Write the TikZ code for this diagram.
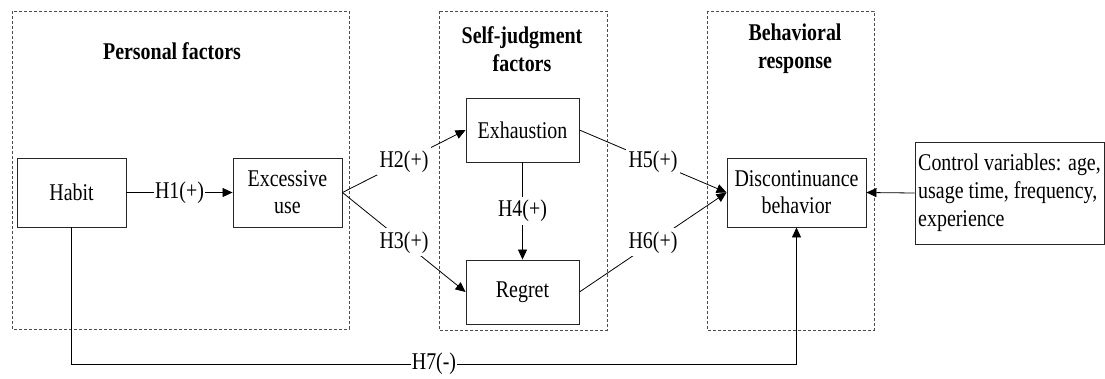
\documentclass[tikz,border=0pt]{standalone}
\usepackage{fontspec}
\setmainfont{Liberation Serif}[FakeStretch=0.83]
\usetikzlibrary{arrows.meta}
\begin{document}
\begin{tikzpicture}[x=1pt,y=-1pt,
  every node/.style={font=\fontsize{24}{27}\selectfont},
  box/.style={draw=black!85,line width=0.9pt,inner sep=2pt,align=center},
  group/.style={draw=black!70,line width=0.8pt,dash pattern=on 3pt off 2pt},
  title/.style={font=\fontsize{24}{28}\selectfont\bfseries,align=center},
  lab/.style={fill=white,inner sep=1.5pt},
  link/.style={draw=black,line width=0.8pt},
  arr/.style={link,-{Triangle[length=10pt,width=9pt]}}]
\useasboundingbox (0,0) rectangle (1105,378);

% dashed groups
\draw[group] (12,11) rectangle (349,329);
\draw[group] (439,11) rectangle (607,330);
\draw[group] (707,11) rectangle (874,330);

% group titles
\node[title] (tpers) at (172,51) {Personal factors};
\node[title] (tself) at (522,49) {Self-judgment\\factors};
\node[title] (tbeh) at (795,49) {Behavioral\\response};

% constructs
\node[box,minimum width=109pt,minimum height=69pt] (habit) at (71.5,192.5) {Habit};
\node[box,minimum width=109pt,minimum height=69pt] (exc) at (287.5,192.5) {Excessive\\use};
\node[box,minimum width=113pt,minimum height=64pt] (exh) at (522.5,130) {Exhaustion};
\node[box,minimum width=113pt,minimum height=64pt] (reg) at (522.5,292) {Regret};
\node[box,minimum width=139pt,minimum height=69pt] (disc) at (796.5,192.5) {Discontinuance\\behavior};
\node[box,minimum width=189pt,minimum height=102pt,align=left,inner xsep=3pt,
  font=\fontsize{24}{28}\selectfont] (ctrl) at (1009.5,193)
  {Control variables: age,\\usage time, frequency,\\experience};

% hypothesised paths
\draw[arr] (habit.east) -- node[lab]{H1(+)} (exc.west);
\draw[arr] (exc.east) -- node[lab,inner sep=3pt]{H2(+)} (exh.west);
\draw[arr] (exc.east) -- node[lab,inner sep=3pt]{H3(+)} (reg.west);
\draw[arr] (exh.south) -- node[lab,inner sep=3pt]{H4(+)} (reg.north);
\draw[arr] (exh.east) -- node[lab,inner sep=3pt]{H5(+)} (disc.west);
\draw[arr] (reg.east) -- node[lab,inner sep=3pt]{H6(+)} (disc.west);
\draw[arr] (ctrl.west) -- (disc.east);

\coordinate (b1) at (71.5,364);
\coordinate (b2) at (796.5,364);
\draw[arr] (habit.south) -- (b1) -- node[lab,inner sep=1pt]{H7(-)} (b2) -- (disc.south);
\end{tikzpicture}
\end{document}
